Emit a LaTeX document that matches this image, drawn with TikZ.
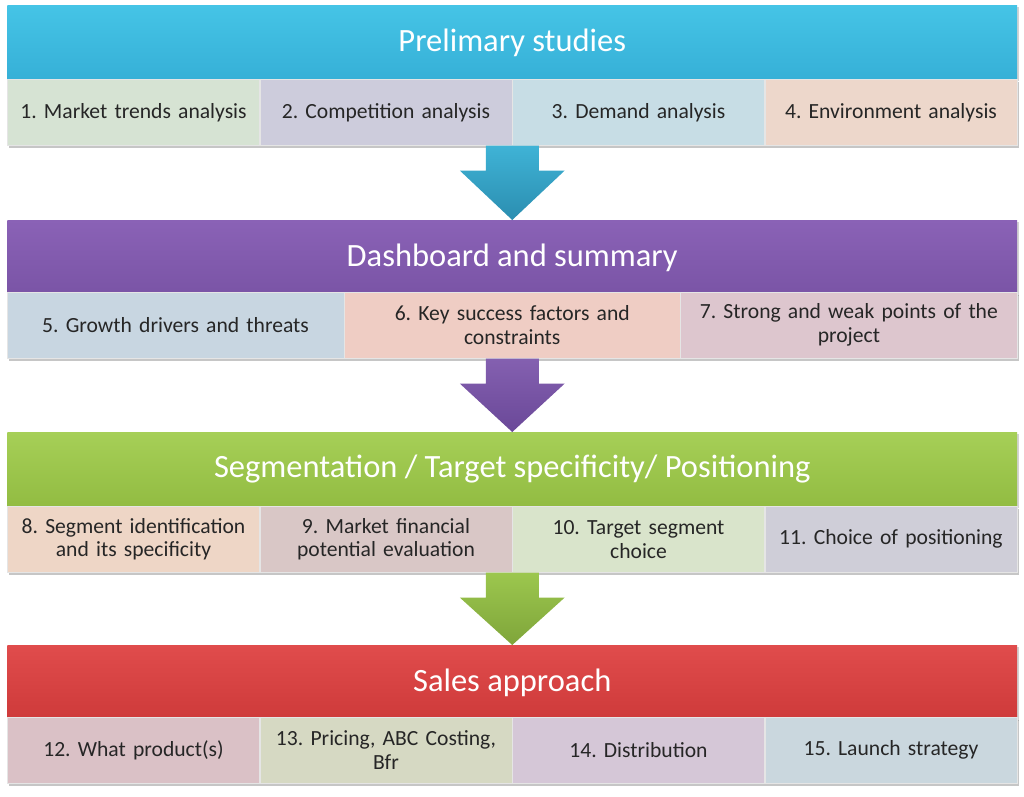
\documentclass[tikz,border=0pt]{standalone}
\usepackage{fontspec}
\setmainfont{Carlito}
\frenchspacing
\usetikzlibrary{calc,positioning,shadows}

% Band colours.
\definecolor{studyA}{HTML}{45C4E6}
\definecolor{studyB}{HTML}{36B0D7}
\definecolor{dashA}{HTML}{8A62B6}
\definecolor{dashB}{HTML}{7A54A6}
\definecolor{segA}{HTML}{A6CF57}
\definecolor{segB}{HTML}{92BC42}
\definecolor{salesA}{HTML}{E04C4C}
\definecolor{salesB}{HTML}{CE3A3A}
% Arrow colours.
\definecolor{arrowA}{HTML}{3FB3D6}
\definecolor{arrowAd}{HTML}{2B8EB0}
\definecolor{arrowB}{HTML}{8460B0}
\definecolor{arrowBd}{HTML}{6A4898}
\definecolor{arrowC}{HTML}{9CC74E}
\definecolor{arrowCd}{HTML}{7FA53A}
% Cell colours.
\definecolor{cellA}{HTML}{D6E3D3}
\definecolor{cellB}{HTML}{CDCCDC}
\definecolor{cellC}{HTML}{C7DDE5}
\definecolor{cellD}{HTML}{EDD7CB}
\definecolor{cellE}{HTML}{C8D6E1}
\definecolor{cellF}{HTML}{EFCDC4}
\definecolor{cellG}{HTML}{DDC6CE}
\definecolor{cellH}{HTML}{EED6C6}
\definecolor{cellI}{HTML}{D9C7C6}
\definecolor{cellJ}{HTML}{D9E4CB}
\definecolor{cellK}{HTML}{CFCED8}
\definecolor{cellL}{HTML}{DAC1C6}
\definecolor{cellM}{HTML}{D6D9C3}
\definecolor{cellN}{HTML}{D5C7D7}
\definecolor{cellO}{HTML}{CAD7DE}

\tikzset{
    bandhead/.style={anchor=north west, minimum width=20.2cm, minimum height=1.48cm,
        inner sep=0pt, text=white, font=\fontsize{18.5}{22}\selectfont,
        drop shadow={shadow xshift=0.8pt, shadow yshift=-0.8pt, opacity=0.35}},
    cell/.style={anchor=north west, minimum height=1.32cm, inner sep=1pt, align=center,
        draw=white!80!gray, line width=0.3pt, text=black!85,
        font=\fontsize{12.3}{13.6}\selectfont,
        drop shadow={shadow xshift=0.8pt, shadow yshift=-1.6pt, opacity=0.45}},
}

% Block arrow from one band to the next.
\newcommand{\flowarrow}[4]{%
    \shade[top color=#3, bottom color=#4] let \p1=(#1), \p2=(#2) in
        (\x1-0.53cm,\y1) -- (\x1+0.53cm,\y1) -- (\x1+0.53cm,\y1-0.5cm)
        -- (\x1+1.05cm,\y1-0.5cm) -- (\x2,\y2) -- (\x1-1.05cm,\y1-0.5cm)
        -- (\x1-0.53cm,\y1-0.5cm) -- cycle;}

\begin{document}
\begin{tikzpicture}[x=0.02cm, y=-0.02cm]
    \useasboundingbox (0,0) rectangle (1024,796);

    % Band 1: preliminary studies.
    \node[bandhead, top color=studyA, bottom color=studyB] (h1) at (7,5) {Prelimary studies};
    \foreach \t/\c [count=\i] in {1. Market trends analysis/cellA, 2. Competition analysis/cellB,
        3. Demand analysis/cellC, 4. Environment analysis/cellD}
        \node[cell, fill=\c, minimum width=5.05cm, text width=4.95cm] (r1-\i) at ({7+252.5*(\i-1)},79) {\t};

    % Band 2: dashboard.
    \node[bandhead, top color=dashA, bottom color=dashB] (h2) at (7,220) {Dashboard and summary};
    \foreach \t/\c [count=\i] in {5. Growth drivers and threats/cellE,
        6. Key success factors and\\ constraints/cellF,
        7. Strong and weak points of the\\ project/cellG}
        \node[cell, fill=\c, minimum width=6.733cm, text width=6.6cm] (r2-\i) at ({7+336.67*(\i-1)},292) {\t};

    % Band 3: segmentation.
    \node[bandhead, top color=segA, bottom color=segB] (h3) at (7,432) {Segmentation / Target specificity/ Positioning};
    \foreach \t/\c [count=\i] in {8. Segment identification\\ and its specificity/cellH,
        9. Market financial\\ potential evaluation/cellI,
        10. Target segment\\ choice/cellJ, 11. Choice of positioning/cellK}
        \node[cell, fill=\c, minimum width=5.05cm, text width=4.95cm] (r3-\i) at ({7+252.5*(\i-1)},506) {\t};

    % Band 4: sales approach.
    \node[bandhead, top color=salesA, bottom color=salesB] (h4) at (7,645) {Sales approach};
    \foreach \t/\c [count=\i] in {12. What product(s)/cellL,
        {13. Pricing, ABC Costing,\\ Bfr}/cellM,
        14. Distribution/cellN, 15. Launch strategy/cellO}
        \node[cell, fill=\c, minimum width=5.05cm, text width=4.95cm] (r4-\i) at ({7+252.5*(\i-1)},717) {\t};

    % Arrows between the bands.
    \flowarrow{h1.center |- r1-1.south}{h2.north}{arrowA}{arrowAd}
    \flowarrow{h2.center |- r2-1.south}{h3.north}{arrowB}{arrowBd}
    \flowarrow{h3.center |- r3-1.south}{h4.north}{arrowC}{arrowCd}
\end{tikzpicture}
\end{document}
